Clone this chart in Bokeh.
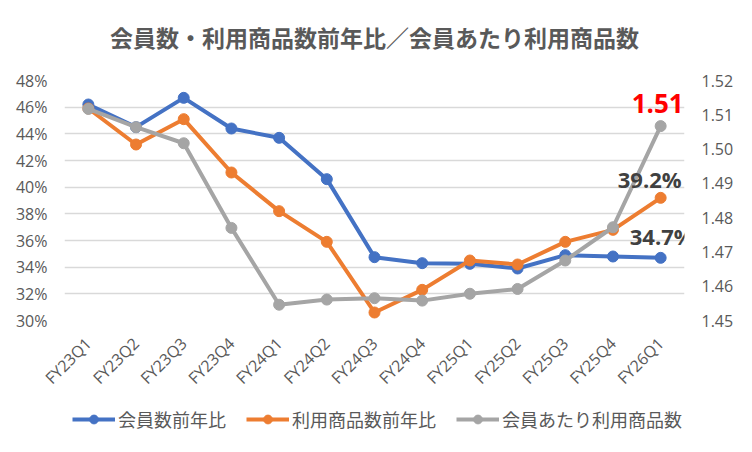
import math
from bokeh.plotting import figure
from bokeh.layouts import column
from bokeh.models import (ColumnDataSource, LinearAxis, Range1d, FactorRange, Legend,
                          LegendItem, NumeralTickFormatter, FixedTicker, LabelSet, Label)
from bokeh.core.properties import value
from bokeh.embed import file_html
from bokeh.resources import INLINE

quarters = ["FY23Q1", "FY23Q2", "FY23Q3", "FY23Q4", "FY24Q1", "FY24Q2", "FY24Q3",
            "FY24Q4", "FY25Q1", "FY25Q2", "FY25Q3", "FY25Q4", "FY26Q1"]
member_yoy = [46.2, 44.5, 46.7, 44.4, 43.7, 40.6, 34.75, 34.3, 34.25, 33.9, 34.9, 34.8, 34.7]
product_yoy = [45.9, 43.2, 45.1, 41.1, 38.2, 35.9, 30.6, 32.3, 34.5, 34.2, 35.9, 36.8, 39.2]
per_member = [1.5117, 1.5064, 1.5017, 1.4770, 1.4546, 1.4561, 1.4565, 1.4558, 1.4578,
              1.4592, 1.4675, 1.4772, 1.5067]
left_ticks = [30, 32, 34, 36, 38, 40, 42, 44, 46, 48]
right_ticks = [1.45, 1.46, 1.47, 1.48, 1.49, 1.50, 1.51, 1.52]
names = ["会員数前年比", "利用商品数前年比", "会員あたり利用商品数"]
title_text = "会員数・利用商品数前年比／会員あたり利用商品数"

BLUE, ORANGE, GRAY = "#4472C4", "#ED7D31", "#A5A5A5"
TXT = "#595959"
CJK = "Noto Sans CJK JP"
LAT = "Open Sans"

src = ColumnDataSource(dict(
    q=quarters,
    m=[v / 100 for v in member_yoy],
    p=[v / 100 for v in product_yoy],
    g=per_member,
))

# ---- title strip ----
tt = figure(width=736, height=60, output_backend="svg", toolbar_location=None,
            x_range=Range1d(0, 1), y_range=Range1d(0, 1),
            min_border=0, x_axis_type=None, y_axis_type=None)
tt.outline_line_color = None
tt.grid.visible = False
tt.add_layout(Label(x=0.5, y=0.40, text=title_text, text_font=CJK, text_font_size="23px",
                    text_font_style="bold", text_color=TXT, text_align="center",
                    text_baseline="middle"))

# ---- main chart ----
p = figure(width=736, height=340, x_range=FactorRange(*quarters, range_padding=0),
           y_range=Range1d(0.30, 0.48), output_backend="svg", toolbar_location=None,
           min_border_left=64, min_border_right=49, min_border_top=20, min_border_bottom=80)
p.extra_y_ranges = {"right": Range1d(1.45, 1.52)}
p.outline_line_color = None
p.background_fill_color = "white"
p.border_fill_color = "white"

ya = p.yaxis[0]
ya.ticker = FixedTicker(ticks=[t / 100 for t in left_ticks])
ya.formatter = NumeralTickFormatter(format="0%")
ra = LinearAxis(y_range_name="right", ticker=FixedTicker(ticks=right_ticks),
                formatter=NumeralTickFormatter(format="0.00"))
p.add_layout(ra, "right")
for ax in (ya, ra):
    ax.axis_line_color = None
    ax.major_tick_line_color = None
    ax.minor_tick_line_color = None
    ax.major_tick_out = 0
    ax.major_tick_in = 0
    ax.major_label_standoff = 17
    ax.major_label_text_font = LAT
    ax.major_label_text_font_size = "16px"
    ax.major_label_text_color = TXT

xa = p.xaxis[0]
xa.axis_line_color = None
xa.major_tick_line_color = None
xa.minor_tick_line_color = None
xa.major_tick_out = 0
xa.major_tick_in = 0
xa.major_label_orientation = math.pi / 4
xa.major_label_standoff = 20
xa.major_label_text_font = LAT
xa.major_label_text_font_size = "16px"
xa.major_label_text_color = TXT

p.xgrid.grid_line_color = None
p.ygrid.grid_line_color = "#D9D9D9"
p.ygrid.grid_line_width = 1.5

series = [("m", BLUE, "default"), ("p", ORANGE, "default"), ("g", GRAY, "right")]
for col, colr, rng in series:
    p.line("q", col, source=src, color=colr, line_width=4, y_range_name=rng)
    p.scatter("q", col, source=src, color=colr, size=11, y_range_name=rng)

last = quarters[-1]
lab_m = ColumnDataSource(dict(x=[last], y=[member_yoy[-1] / 100], t=[f"{member_yoy[-1]:.1f}%"]))
lab_p = ColumnDataSource(dict(x=[last], y=[product_yoy[-1] / 100], t=[f"{product_yoy[-1]:.1f}%"]))
lab_g = ColumnDataSource(dict(x=[last], y=[per_member[-1]], t=[f"{per_member[-1]:.2f}"]))
p.add_layout(LabelSet(x="x", y="y", text="t", source=lab_m, text_font=value(LAT),
                      text_font_size="22px", text_font_style="bold", text_color="#404040",
                      text_align="center", text_baseline="middle", x_offset=1, y_offset=22))
p.add_layout(LabelSet(x="x", y="y", text="t", source=lab_p, text_font=value(LAT),
                      text_font_size="22px", text_font_style="bold", text_color="#404040",
                      text_align="center", text_baseline="middle", x_offset=-11, y_offset=19))
p.add_layout(LabelSet(x="x", y="y", text="t", source=lab_g, y_range_name="right",
                      text_font=value(LAT), text_font_size="26px", text_font_style="bold",
                      text_color="#FF0000", text_align="center", text_baseline="middle",
                      x_offset=-3, y_offset=23))

# ---- legend strip (same series, outside this strip's visible range) ----
lg = figure(width=736, height=36, output_backend="svg", toolbar_location=None,
            x_range=FactorRange(*quarters), y_range=Range1d(10, 11),
            min_border=0, x_axis_type=None, y_axis_type=None)
lg.outline_line_color = None
lg.grid.visible = False
items = []
for (col, colr, rng), name in zip(series, names):
    rl = lg.line("q", col, source=src, color=colr, line_width=4)
    rs = lg.scatter("q", col, source=src, color=colr, size=11)
    items.append(LegendItem(label=name, renderers=[rl, rs]))
legend = Legend(items=items, orientation="horizontal", location=(8, 4))
legend.label_text_font = CJK
legend.label_text_font_size = "18px"
legend.label_text_color = TXT
legend.glyph_width = 43
legend.glyph_height = 22
legend.label_standoff = 3
legend.spacing = 20
legend.padding = 0
legend.margin = 0
legend.border_line_color = None
legend.background_fill_alpha = 0
lg.add_layout(legend, "center")

layout = column(tt, p, lg, spacing=0)
open("out.html", "w").write(file_html(layout, INLINE))
